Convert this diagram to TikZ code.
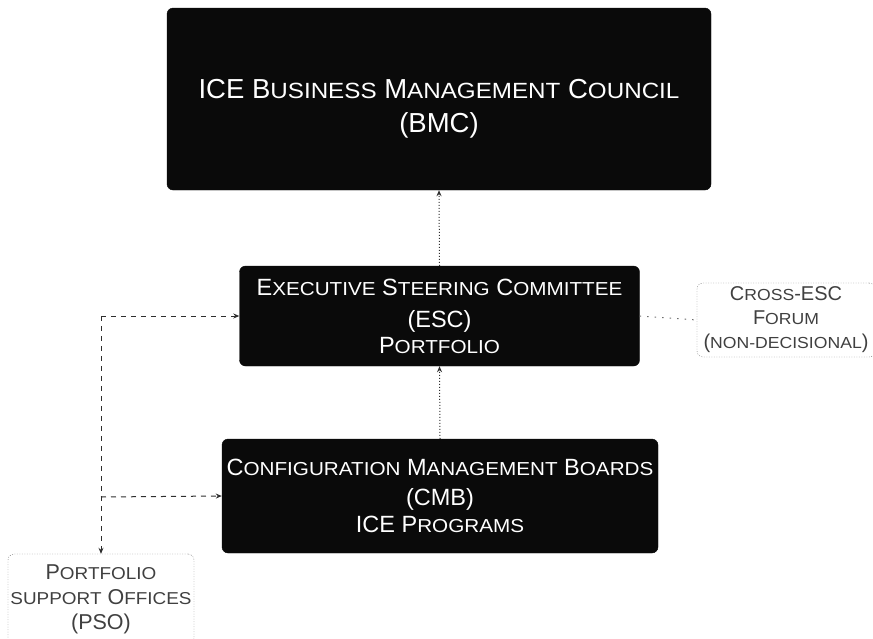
\documentclass[tikz,border=0pt]{standalone}
\usepackage{fontspec}
\setmainfont{Liberation Sans}
\newfontfamily\scwide{Liberation Sans}[FakeStretch=1.1]
\usetikzlibrary{arrows.meta}
\makeatletter
% synthetic small capitals: reduced, slightly widened capitals
\newcommand\sm[1]{{\scwide\fontsize{\fpeval{0.8*\f@size}}{\f@baselineskip}\selectfont #1}}
\makeatother
\definecolor{boxfill}{HTML}{0A0A0A}
\definecolor{linegray}{HTML}{2E2E2E}
\definecolor{framegray}{HTML}{6E6E6E}
\tikzset{
  darkbox/.style={draw=boxfill, fill=boxfill, rounded corners=6pt, text=white,
    align=center, inner sep=0pt},
  lightbox/.style={draw=framegray, dash pattern=on 1pt off 1.5pt, rounded corners=6pt,
    text=black!75, align=center, inner sep=0pt},
  boxtext/.style={text=white, align=center, inner sep=0pt},
  tip/.style={-{Stealth[length=6pt,width=5pt]}},
  dotline/.style={draw=linegray, line width=1pt, dash pattern=on 1pt off 2pt},
  dashline/.style={draw=linegray, line width=1pt, dash pattern=on 5pt off 5pt},
  sparseline/.style={draw=framegray, line width=1pt, dash pattern=on 1.5pt off 6pt},
}
\begin{document}
\begin{tikzpicture}[x=1pt, y=-1pt]
  \useasboundingbox (0,0) rectangle (873,638);

  % governance boxes
  \node[darkbox, minimum width=544pt, minimum height=182pt] (bmc) at (439,99) {};
  \node[boxtext, font=\fontsize{27.5}{34}\selectfont] (bmctext) at (439,109)
    {ICE B\sm{USINESS} M\sm{ANAGEMENT} C\sm{OUNCIL}\\(BMC)};
  \node[darkbox, minimum width=400pt, minimum height=100pt,
        font=\fontsize{23.5}{26}\selectfont] (esc) at (439.5,316)
    {E\sm{XECUTIVE} S\sm{TEERING} C\sm{OMMITTEE}\\[6pt](ESC)\\P\sm{ORTFOLIO}};
  \node[darkbox, minimum width=436pt, minimum height=114pt,
        font=\fontsize{23.5}{27}\selectfont] (cmb) at (440,496)
    {C\sm{ONFIGURATION} M\sm{ANAGEMENT} B\sm{OARDS}\\[3pt](CMB)\\ICE P\sm{ROGRAMS}};

  % supporting bodies
  \node[lightbox, minimum width=178pt, minimum height=74pt,
        font=\fontsize{20}{24}\selectfont] (forum) at (786,320)
    {C\sm{ROSS}-ESC\\F\sm{ORUM}\\(\sm{NON-DECISIONAL})};
  \node[lightbox, minimum width=186pt, minimum height=90pt,
        font=\fontsize{21.5}{25}\selectfont] (pso) at (101,599)
    {P\sm{ORTFOLIO}\\\sm{SUPPORT} O\sm{FFICES}\\(PSO)};

  % reporting lines
  \draw[dotline, tip] (esc.north) -- (bmc.south);
  \draw[dotline, tip] (cmb.north) -- (esc.south);
  \draw[sparseline] (esc.east) -- (forum.west);

  % support lines from the PSO
  \coordinate (jesc) at (101,316);
  \coordinate (jcmb) at (101,497);
  \draw[dashline, tip] (jesc) -- (esc.west);
  \draw[dashline, tip] (jcmb) -- (cmb.west);
  \draw[dashline, tip] (jesc) -- (pso.north);
\end{tikzpicture}
\end{document}
